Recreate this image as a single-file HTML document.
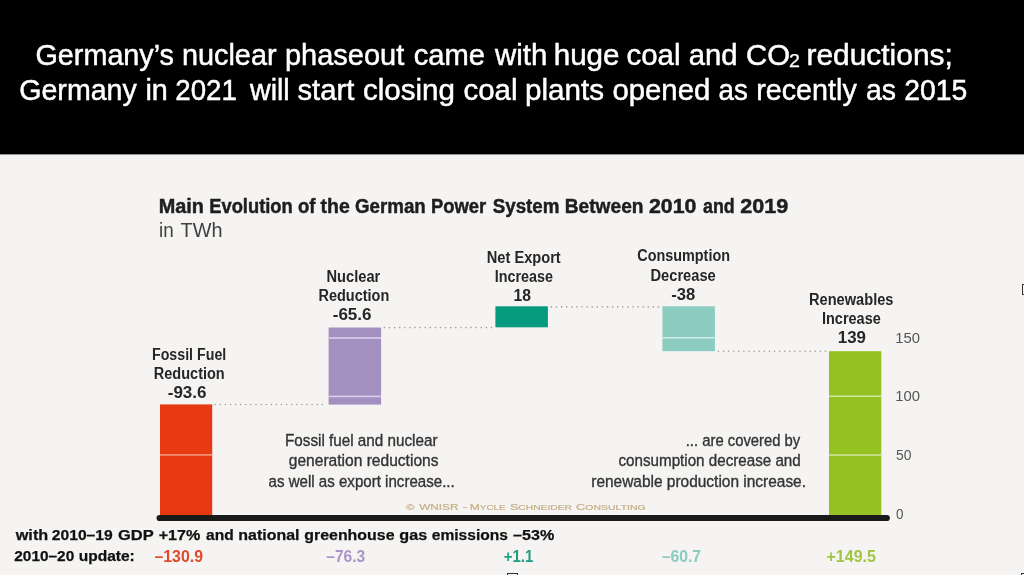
<!DOCTYPE html>
<html>
<head>
<meta charset="utf-8">
<title>Germany's nuclear phaseout</title>
<style>
  html, body { margin: 0; padding: 0; }
  body { width: 1024px; height: 575px; overflow: hidden; background: #f5f4f2; font-family: "Liberation Sans", sans-serif; }
  svg { display: block; position: absolute; left: 0; top: 0; will-change: transform; }
  text { font-family: "Liberation Sans", sans-serif; }
  .hd { fill: #ffffff; font-size: 30.3px; stroke: #ffffff; stroke-width: 0.5px; }
  .hs { font-size: 17.5px; stroke-width: 0.25px; }
  .ttl { fill: #1e1e1e; font-size: 19.4px; font-weight: bold; stroke: #1e1e1e; stroke-width: 0.45px; }
  .sub { fill: #404040; font-size: 19.8px; }
  .lbl { fill: #262626; font-size: 15.8px; font-weight: bold; }
  .num { font-size: 17px; }
  .desc { fill: #333333; font-size: 16.3px; stroke: #333333; stroke-width: 0.35px; }
  .ax { fill: #555555; font-size: 15px; }
  .ft { fill: #111111; font-size: 15.4px; font-weight: bold; stroke: #111111; stroke-width: 0.25px; }
  .ft2 { font-size: 14.6px; font-weight: bold; }
  .fv { font-size: 15.6px; }
  .cr { fill: #c5ae84; font-size: 9.9px; stroke: #c5ae84; stroke-width: 0.2px; }
  .sc { font-size: 8.1px; }
</style>
</head>
<body>
<svg width="1024" height="575" viewBox="0 0 1024 575">
  <rect x="0" y="0" width="1024" height="575" fill="#f5f4f2"/>
  <rect x="0" y="0" width="1024" height="154.4" fill="#000000"/>
  <!-- dotted connectors -->
  <g stroke="#a3a09c" stroke-width="1.6" stroke-dasharray="0.01 5.09" stroke-linecap="round" fill="none">
    <line x1="215.2" y1="404.5" x2="326" y2="404.5"/>
    <line x1="384.4" y1="327.6" x2="493.5" y2="327.6"/>
    <line x1="551.4" y1="306.9" x2="660.5" y2="306.9"/>
    <line x1="718.4" y1="351.3" x2="827" y2="351.3"/>
  </g>
  <!-- bars -->
  <rect x="160" y="404.4" width="52.2" height="111" fill="#e73a13"/>
  <rect x="160" y="454.2" width="52.2" height="1.4" fill="#f4a48e"/>
  <rect x="328.6" y="327.5" width="52.5" height="77.1" fill="#a48fc1"/>
  <rect x="328.6" y="337.2" width="52.5" height="1.6" fill="#dbd0ec"/>
  <rect x="328.6" y="395.6" width="52.5" height="1.6" fill="#dbd0ec"/>
  <rect x="495.4" y="306.3" width="52.5" height="21" fill="#069b7e"/>
  <rect x="662.4" y="306.3" width="52.5" height="44.9" fill="#8bcbc0"/>
  <rect x="662.4" y="337" width="52.5" height="1.5" fill="#d2ede9"/>
  <rect x="829" y="351.2" width="52.3" height="164" fill="#95c122"/>
  <rect x="829" y="395.5" width="52.3" height="1.5" fill="#d3e7a0"/>
  <rect x="829" y="454.3" width="52.3" height="1.5" fill="#d3e7a0"/>
  <!-- baseline -->
  <line x1="159.6" y1="518" x2="886.8" y2="518" stroke="#1a1a1a" stroke-width="6.2" stroke-linecap="round"/>
  <!-- selection handles (partially visible) -->
  <rect x="1022.5" y="284.5" width="10" height="10" fill="#f5f4f2" stroke="#333" stroke-width="1"/>
  <rect x="507.5" y="573.5" width="10" height="10" fill="#f5f4f2" stroke="#333" stroke-width="1"/>
  <rect x="1021.5" y="573.5" width="10" height="10" fill="#f5f4f2" stroke="#333" stroke-width="1"/>
  <g id="txt">
  <text class="hd" x="35.50" y="64.6" textLength="138.50" lengthAdjust="spacingAndGlyphs">Germany’s</text>
  <text class="hd" x="182.00" y="64.6" textLength="94.50" lengthAdjust="spacingAndGlyphs">nuclear</text>
  <text class="hd" x="285.00" y="64.6" textLength="119.25" lengthAdjust="spacingAndGlyphs">phaseout</text>
  <text class="hd" x="413.75" y="64.6" textLength="71.25" lengthAdjust="spacingAndGlyphs">came</text>
  <text class="hd" x="494.99" y="64.6" textLength="52.24" lengthAdjust="spacingAndGlyphs">with</text>
  <text class="hd" x="553.72" y="64.6" textLength="65.80" lengthAdjust="spacingAndGlyphs">huge</text>
  <text class="hd" x="626.49" y="64.6" textLength="54.03" lengthAdjust="spacingAndGlyphs">coal</text>
  <text class="hd" x="688.74" y="64.6" textLength="48.79" lengthAdjust="spacingAndGlyphs">and</text>
  <text class="hd" x="745.99" y="64.6" textLength="44.03" lengthAdjust="spacingAndGlyphs">CO</text>
  <text class="hd hs" x="789.04" y="67.0" textLength="10.93" lengthAdjust="spacingAndGlyphs">2</text>
  <text class="hd" x="806.47" y="64.6" textLength="146.31" lengthAdjust="spacingAndGlyphs">reductions;</text>
  <text class="hd" x="19.26" y="99.6" textLength="117.49" lengthAdjust="spacingAndGlyphs">Germany</text>
  <text class="hd" x="145.42" y="99.6" textLength="22.42" lengthAdjust="spacingAndGlyphs">in</text>
  <text class="hd" x="175.25" y="99.6" textLength="61.51" lengthAdjust="spacingAndGlyphs">2021</text>
  <text class="hd" x="249.99" y="99.6" textLength="39.73" lengthAdjust="spacingAndGlyphs">will</text>
  <text class="hd" x="297.52" y="99.6" textLength="56.74" lengthAdjust="spacingAndGlyphs">start</text>
  <text class="hd" x="362.99" y="99.6" textLength="92.02" lengthAdjust="spacingAndGlyphs">closing</text>
  <text class="hd" x="463.49" y="99.6" textLength="54.03" lengthAdjust="spacingAndGlyphs">coal</text>
  <text class="hd" x="524.99" y="99.6" textLength="79.01" lengthAdjust="spacingAndGlyphs">plants</text>
  <text class="hd" x="612.49" y="99.6" textLength="97.76" lengthAdjust="spacingAndGlyphs">opened</text>
  <text class="hd" x="718.51" y="99.6" textLength="29.24" lengthAdjust="spacingAndGlyphs">as</text>
  <text class="hd" x="756.26" y="99.6" textLength="100.49" lengthAdjust="spacingAndGlyphs">recently</text>
  <text class="hd" x="866.01" y="99.6" textLength="29.99" lengthAdjust="spacingAndGlyphs">as</text>
  <text class="hd" x="904.25" y="99.6" textLength="63.00" lengthAdjust="spacingAndGlyphs">2015</text>
  <text class="ttl" x="158.75" y="212.8" textLength="45.25" lengthAdjust="spacingAndGlyphs">Main</text>
  <text class="ttl" x="209.25" y="212.8" textLength="83.50" lengthAdjust="spacingAndGlyphs">Evolution</text>
  <text class="ttl" x="298.03" y="212.8" textLength="17.48" lengthAdjust="spacingAndGlyphs">of</text>
  <text class="ttl" x="320.50" y="212.8" textLength="29.23" lengthAdjust="spacingAndGlyphs">the</text>
  <text class="ttl" x="355.00" y="212.8" textLength="70.74" lengthAdjust="spacingAndGlyphs">German</text>
  <text class="ttl" x="431.02" y="212.8" textLength="55.23" lengthAdjust="spacingAndGlyphs">Power</text>
  <text class="ttl" x="492.75" y="212.8" textLength="66.74" lengthAdjust="spacingAndGlyphs">System</text>
  <text class="ttl" x="564.75" y="212.8" textLength="78.75" lengthAdjust="spacingAndGlyphs">Between</text>
  <text class="ttl" x="649.01" y="212.8" textLength="47.48" lengthAdjust="spacingAndGlyphs">2010</text>
  <text class="ttl" x="703.01" y="212.8" textLength="31.72" lengthAdjust="spacingAndGlyphs">and</text>
  <text class="ttl" x="740.26" y="212.8" textLength="47.98" lengthAdjust="spacingAndGlyphs">2019</text>
  <text class="sub" x="159.03" y="236.8" textLength="14.68" lengthAdjust="spacingAndGlyphs">in</text>
  <text class="sub" x="180.50" y="236.8" textLength="41.98" lengthAdjust="spacingAndGlyphs">TWh</text>
  <text class="lbl" x="152.01" y="359.9" textLength="74.24" lengthAdjust="spacingAndGlyphs">Fossil Fuel</text>
  <text class="lbl" x="153.76" y="379.2" textLength="70.99" lengthAdjust="spacingAndGlyphs">Reduction</text>
  <text class="lbl num" x="167.76" y="398.4" textLength="38.74" lengthAdjust="spacingAndGlyphs">-93.6</text>
  <text class="lbl" x="326.52" y="281.8" textLength="53.74" lengthAdjust="spacingAndGlyphs">Nuclear</text>
  <text class="lbl" x="318.51" y="301.1" textLength="70.73" lengthAdjust="spacingAndGlyphs">Reduction</text>
  <text class="lbl num" x="332.76" y="319.8" textLength="38.74" lengthAdjust="spacingAndGlyphs">-65.6</text>
  <text class="lbl" x="486.76" y="262.8" textLength="74.00" lengthAdjust="spacingAndGlyphs">Net Export</text>
  <text class="lbl" x="494.76" y="282.3" textLength="58.24" lengthAdjust="spacingAndGlyphs">Increase</text>
  <text class="lbl num" x="513.54" y="301.1" textLength="17.46" lengthAdjust="spacingAndGlyphs">18</text>
  <text class="lbl" x="637.25" y="261.3" textLength="92.74" lengthAdjust="spacingAndGlyphs">Consumption</text>
  <text class="lbl" x="650.51" y="280.6" textLength="65.24" lengthAdjust="spacingAndGlyphs">Decrease</text>
  <text class="lbl num" x="671.27" y="299.8" textLength="23.98" lengthAdjust="spacingAndGlyphs">-38</text>
  <text class="lbl" x="809.01" y="304.8" textLength="84.49" lengthAdjust="spacingAndGlyphs">Renewables</text>
  <text class="lbl" x="822.01" y="324.3" textLength="58.74" lengthAdjust="spacingAndGlyphs">Increase</text>
  <text class="lbl num" x="837.78" y="343.3" textLength="28.22" lengthAdjust="spacingAndGlyphs">139</text>
  <text class="ax" x="895.28" y="342.6" textLength="24.72" lengthAdjust="spacingAndGlyphs">150</text>
  <text class="ax" x="895.28" y="401.2" textLength="24.72" lengthAdjust="spacingAndGlyphs">100</text>
  <text class="ax" x="896.00" y="460.1" textLength="15.48" lengthAdjust="spacingAndGlyphs">50</text>
  <text class="ax" x="896.00" y="519" textLength="7.47" lengthAdjust="spacingAndGlyphs">0</text>
  <text class="desc" x="285.01" y="445.9" textLength="152.49" lengthAdjust="spacingAndGlyphs">Fossil fuel and nuclear</text>
  <text class="desc" x="288.75" y="466.3" textLength="149.75" lengthAdjust="spacingAndGlyphs">generation reductions</text>
  <text class="desc" x="268.50" y="486.7" textLength="186.25" lengthAdjust="spacingAndGlyphs">as well as export increase...</text>
  <text class="desc" x="685.76" y="445.9" textLength="114.49" lengthAdjust="spacingAndGlyphs">... are covered by</text>
  <text class="desc" x="618.50" y="466.3" textLength="182.24" lengthAdjust="spacingAndGlyphs">consumption decrease and</text>
  <text class="desc" x="591.25" y="486.7" textLength="214.75" lengthAdjust="spacingAndGlyphs">renewable production increase.</text>
  <text class="cr sc" x="406.27" y="510.2" textLength="8.23" lengthAdjust="spacingAndGlyphs">©</text>
  <text class="cr" x="419.25" y="510.2" textLength="39.23" lengthAdjust="spacingAndGlyphs">WNISR</text>
  <text class="cr" x="462.60" y="510.2" textLength="4.82" lengthAdjust="spacingAndGlyphs">-</text>
  <text class="cr" x="469.77" y="510.2" textLength="35.98" lengthAdjust="spacingAndGlyphs">M<tspan class="sc">YCLE</tspan></text>
  <text class="cr" x="510.01" y="510.2" textLength="61.98" lengthAdjust="spacingAndGlyphs">S<tspan class="sc">CHNEIDER</tspan></text>
  <text class="cr" x="576.00" y="510.2" textLength="69.74" lengthAdjust="spacingAndGlyphs">C<tspan class="sc">ONSULTING</tspan></text>
  <text class="ft" x="15.74" y="540.3" textLength="32.48" lengthAdjust="spacingAndGlyphs">with</text>
  <text class="ft" x="51.76" y="540.3" textLength="60.99" lengthAdjust="spacingAndGlyphs">2010–19</text>
  <text class="ft" x="118.01" y="540.3" textLength="35.73" lengthAdjust="spacingAndGlyphs">GDP</text>
  <text class="ft" x="158.76" y="540.3" textLength="41.48" lengthAdjust="spacingAndGlyphs">+17%</text>
  <text class="ft" x="206.01" y="540.3" textLength="27.72" lengthAdjust="spacingAndGlyphs">and</text>
  <text class="ft" x="238.25" y="540.3" textLength="61.25" lengthAdjust="spacingAndGlyphs">national</text>
  <text class="ft" x="304.26" y="540.3" textLength="90.24" lengthAdjust="spacingAndGlyphs">greenhouse</text>
  <text class="ft" x="399.27" y="540.3" textLength="27.96" lengthAdjust="spacingAndGlyphs">gas</text>
  <text class="ft" x="431.76" y="540.3" textLength="76.24" lengthAdjust="spacingAndGlyphs">emissions</text>
  <text class="ft" x="513.01" y="540.3" textLength="41.23" lengthAdjust="spacingAndGlyphs">–53%</text>
  <text class="ft ft2" x="14.25" y="561.2" textLength="59.99" lengthAdjust="spacingAndGlyphs">2010–20</text>
  <text class="ft ft2" x="78.75" y="561.2" textLength="56.00" lengthAdjust="spacingAndGlyphs">update:</text>
  <text class="ft2 fv" x="154.49" y="561.7" textLength="48.50" lengthAdjust="spacingAndGlyphs" style="fill:#e0482a">–130.9</text>
  <text class="ft2 fv" x="326.25" y="561.7" textLength="39.00" lengthAdjust="spacingAndGlyphs" style="fill:#a994c8">–76.3</text>
  <text class="ft2 fv" x="503.76" y="561.7" textLength="29.50" lengthAdjust="spacingAndGlyphs" style="fill:#1f9c82">+1.1</text>
  <text class="ft2 fv" x="661.74" y="561.7" textLength="39.25" lengthAdjust="spacingAndGlyphs" style="fill:#8bcbc0">–60.7</text>
  <text class="ft2 fv" x="826.51" y="561.7" textLength="49.50" lengthAdjust="spacingAndGlyphs" style="fill:#9fc640">+149.5</text>
  </g>
</svg>
</body>
</html>
